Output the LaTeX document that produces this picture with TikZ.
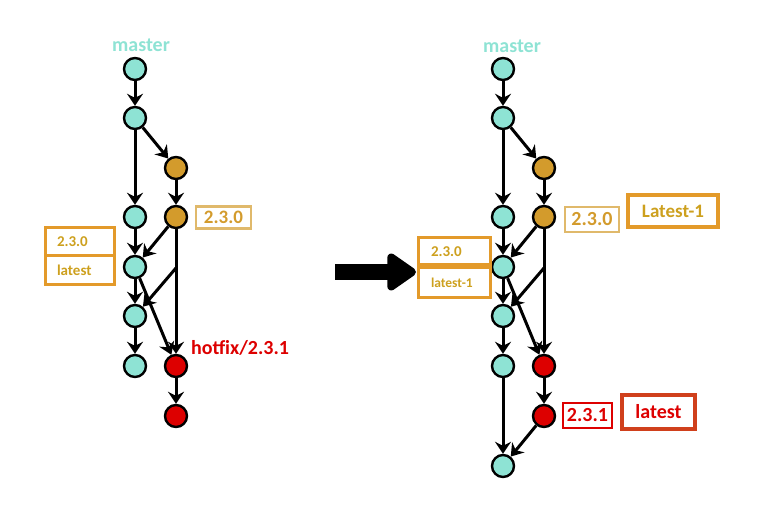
\documentclass[tikz,border=0pt]{standalone}
\usepackage{fontspec}
\setmainfont{Carlito}
\usetikzlibrary{arrows.meta}

\definecolor{mint}{HTML}{8EE3D4}
\definecolor{gold}{HTML}{D39B2C}
\definecolor{hotred}{HTML}{DD0000}
\definecolor{tagline}{HTML}{E39A2A}
\definecolor{tagtext}{HTML}{CDA01E}
\definecolor{latestline}{HTML}{D0401C}

\begin{document}
\begin{tikzpicture}[x=1pt, y=-1pt,
    commit/.style={circle, draw, line width=2.4pt, minimum size=22pt, inner sep=0pt},
    tagbox/.style={draw=tagline, line width=3pt, text=tagtext, font=\bfseries, inner sep=0pt},
    link/.style={->, line width=3pt},
    >={Stealth[length=12pt, width=16pt, inset=4pt]}]
    \useasboundingbox (0,0) rectangle (762,526);

    % Nodes (before)
    \foreach \n/\y in {1/69, 2/118, 3/217, 4/267, 5/316, 6/366} {
        \node[commit, fill=mint] (lm\n) at (135,\y) {};
    }
    \node[commit, fill=gold] (lg1) at (176,168) {};
    \node[commit, fill=gold] (lg2) at (176,217) {};
    \node[commit, fill=hotred] (lr1) at (176,366) {};
    \node[commit, fill=hotred] (lr2) at (176,416) {};
    \coordinate (lj) at (176,268);

    % Nodes (after)
    \foreach \n/\y in {1/69, 2/118, 3/217, 4/267, 5/316, 6/366, 7/466} {
        \node[commit, fill=mint] (rm\n) at (503,\y) {};
    }
    \node[commit, fill=gold] (rg1) at (544,168) {};
    \node[commit, fill=gold] (rg2) at (544,217) {};
    \node[commit, fill=hotred] (rr1) at (544,366) {};
    \node[commit, fill=hotred] (rr2) at (544,416) {};
    \coordinate (rj) at (544,268);

    % Edges
    \foreach \s in {l,r} {
        \draw[link] (\s m1) -- (\s m2);
        \draw[link] (\s m2) -- (\s m3);
        \draw[link] (\s m3) -- (\s m4);
        \draw[link] (\s m4) -- (\s m5);
        \draw[link] (\s m5) -- (\s m6);
        \draw[link] (\s m2) -- (\s g1);
        \draw[link] (\s g1) -- (\s g2);
        \draw[link] (\s g2) -- (\s m4);
        \draw[link] (\s g2) -- (\s r1);
        \draw[link] (\s j) -- (\s m5);
        \draw[link] (\s m4) -- (\s r1);
        \draw[link] (\s r1) -- (\s r2);
    }
    \draw[link] (rm6) -- (rm7);
    \draw[link] (rr2) -- (rm7);

    % Labels
    \node[text=mint, font=\bfseries\fontsize{20}{20}\selectfont] (lmaster) at (141,45) {master};
    \node[text=mint, font=\bfseries\fontsize{20}{20}\selectfont] (rmaster) at (512,46) {master};
    \node[text=hotred, font=\bfseries\fontsize{20}{20}\selectfont] (lhotfix) at (240,348) {hotfix/2.3.1};

    \node[tagbox, draw=gold!70, line width=2.4pt, text=gold, minimum width=55pt, minimum height=22pt,
          font=\bfseries\fontsize{19}{19}\selectfont] (ltag) at (223.5,217.5) {2.3.0};
    \node[tagbox, text width=45pt, inner xsep=12pt, minimum height=28pt, align=left,
          font=\bfseries\fontsize{15}{15}\selectfont] (lold) at (79.5,242) {2.3.0};
    \node[tagbox, text width=45pt, inner xsep=12pt, minimum height=29pt, align=left,
          font=\bfseries\fontsize{15}{15}\selectfont] (llatest) at (79.5,270.5) {latest};

    \node[tagbox, draw=gold!70, line width=2.4pt, text=gold, minimum width=54pt, minimum height=25pt,
          font=\bfseries\fontsize{20}{20}\selectfont] (rtag) at (592,219.5) {2.3.0};
    \node[tagbox, line width=3.4pt, minimum width=90pt, minimum height=32pt,
          font=\bfseries\fontsize{19}{19}\selectfont] (rprev) at (673,211) {Latest-1};
    \node[tagbox, text width=46pt, inner xsep=13pt, minimum height=27pt, align=left,
          font=\bfseries\fontsize{15}{15}\selectfont] (rold) at (454,251.5) {2.3.0};
    \node[tagbox, text width=46pt, inner xsep=13pt, minimum height=29pt, align=left,
          font=\bfseries\fontsize{13.5}{13.5}\selectfont] (rlatest1) at (454,282.5) {latest-1};
    \node[tagbox, draw=hotred, line width=2.4pt, text=hotred, minimum width=49pt, minimum height=25pt,
          font=\bfseries\fontsize{20}{20}\selectfont] (rhot) at (587.5,415.5) {2.3.1};
    \node[tagbox, draw=latestline, line width=3.4pt, text=hotred, minimum width=73pt, minimum height=34pt,
          font=\bfseries\fontsize{20}{20}\selectfont] (rlatest) at (658.5,412) {latest};

    % Big arrow
    \coordinate (from) at (335,272);
    \coordinate (to) at (416,272);
    \draw[line width=16pt, -{Triangle[length=32pt, width=42pt, round]}] (from) -- (to);
\end{tikzpicture}
\end{document}
